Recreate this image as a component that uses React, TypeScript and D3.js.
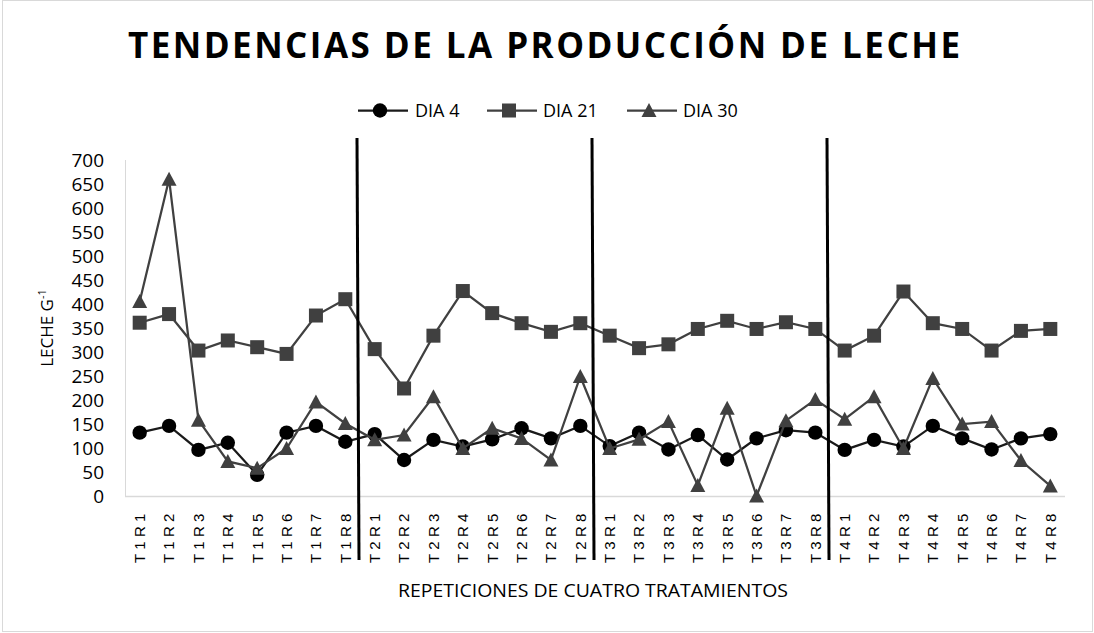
import React from 'react';
import * as d3 from 'd3';

const categories = [
  'T1R1', 'T1R2', 'T1R3', 'T1R4', 'T1R5', 'T1R6', 'T1R7', 'T1R8',
  'T2R1', 'T2R2', 'T2R3', 'T2R4', 'T2R5', 'T2R6', 'T2R7', 'T2R8',
  'T3R1', 'T3R2', 'T3R3', 'T3R4', 'T3R5', 'T3R6', 'T3R7', 'T3R8',
  'T4R1', 'T4R2', 'T4R3', 'T4R4', 'T4R5', 'T4R6', 'T4R7', 'T4R8',
];

const dia4 = [
  132, 146, 96, 111, 44, 132, 146, 113,
  129, 75, 117, 103, 118, 141, 120, 146,
  104, 132, 97, 127, 76, 120, 137, 132,
  96, 117, 103, 146, 120, 97, 120, 129,
];

const dia21 = [
  361, 379, 303, 324, 310, 296, 376, 410,
  306, 224, 334, 427, 381, 360, 342, 360,
  334, 308, 316, 348, 365, 348, 362, 348,
  303, 334, 426, 360, 348, 303, 344, 348,
];

const dia30 = [
  405, 660, 158, 72, 58, 99, 196, 151,
  117, 127, 207, 99, 141, 120, 75, 249,
  99, 118, 155, 22, 183, 0, 157, 201,
  160, 207, 99, 245, 150, 155, 74, 21,
];

const yTicks = [0, 50, 100, 150, 200, 250, 300, 350, 400, 450, 500, 550, 600, 650, 700];
const groupBreaks = [8, 16, 24];

const series = [
  { name: 'DIA 4', values: dia4, marker: 'circle', color: '#000000', line: '#1a1a1a' },
  { name: 'DIA 21', values: dia21, marker: 'square', color: '#404040', line: '#404040' },
  { name: 'DIA 30', values: dia30, marker: 'triangle', color: '#404040', line: '#404040' },
];

const W = 1094;
const H = 633;
const left = 125;
const right = 1065;
const top = 160;
const bottom = 496;
const font = "'Open Sans', 'Noto Sans', sans-serif";

function Marker({ type, x, y, color }: { type: string; x: number; y: number; color: string }) {
  if (type === 'circle') return <circle cx={x} cy={y} r={7.2} fill={color} />;
  if (type === 'square') return <rect x={x - 7} y={y - 7} width={14} height={14} fill={color} />;
  return <path d={`M${x},${y - 7.5}L${x + 7.5},${y + 6.5}L${x - 7.5},${y + 6.5}Z`} fill={color} />;
}

export default function App() {
  const x = d3.scaleBand<string>().domain(categories).range([left, right]);
  const y = d3.scaleLinear().domain([0, 700]).range([bottom, top]);
  const cx = (c: string) => (x(c) as number) + x.bandwidth() / 2;

  const line = d3
    .line<number>()
    .x((_, i) => cx(categories[i]))
    .y(d => y(d));

  const legendItems = [
    { lx: 358, tx: 415 },
    { lx: 487, tx: 543 },
    { lx: 627, tx: 683 },
  ];

  return (
    <svg width={W} height={H} style={{ position: 'absolute', left: 0, top: 0, background: '#fff' }}>
      <rect x={2.5} y={0.5} width={1090} height={631} fill="#fff" stroke="#d9d9d9" />

      {/* title */}
      <text
        x={128}
        y={58}
        fontFamily={font}
        fontWeight="bold"
        fontSize={35}
        textLength={832}
        lengthAdjust="spacing"
        fill="#000"
      >
        TENDENCIAS DE LA PRODUCCIÓN DE LECHE
      </text>

      {/* legend */}
      {series.map((s, i) => (
        <g key={s.name}>
          <line x1={legendItems[i].lx} x2={legendItems[i].lx + 50} y1={110.5} y2={110.5} stroke={s.line} strokeWidth={2.25} />
          <Marker type={s.marker} x={legendItems[i].lx + 22} y={110.5} color={s.color} />
          <text x={legendItems[i].tx} y={110.5} dy="0.35em" fontFamily={font} fontSize={18} fill="#000">
            {s.name}
          </text>
        </g>
      ))}

      {/* axes */}
      <line x1={left + 0.5} x2={left + 0.5} y1={top} y2={bottom} stroke="#d9d9d9" strokeWidth={1} />
      <line x1={left} x2={right} y1={bottom + 0.5} y2={bottom + 0.5} stroke="#d9d9d9" strokeWidth={1.5} />

      {yTicks.map(t => (
        <text key={t} x={104} y={y(t)} dy="0.35em" textAnchor="end" fontFamily={font} fontSize={19} fill="#000">
          {t}
        </text>
      ))}

      {categories.map(c => (
        <text
          key={c}
          transform={`translate(${cx(c)},563) rotate(-90)`}
          dy="0.36em"
          fontFamily="'Liberation Sans', Arial, sans-serif"
          fontSize={15}
          letterSpacing={4.2}
          fill="#000"
        >
          {c}
        </text>
      ))}

      <text
        transform={`translate(53,${(top + bottom) / 2}) rotate(-90)`}
        textAnchor="middle"
        fontFamily={font}
        fontSize={17}
        fill="#000"
      >
        LECHE G<tspan fontSize={11} dy={-7}>-1</tspan>
      </text>

      <text x={398} y={597} fontFamily={font} fontSize={18} textLength={390} lengthAdjust="spacingAndGlyphs" fill="#000">
        REPETICIONES DE CUATRO TRATAMIENTOS
      </text>

      {/* series */}
      {series.map(s => (
        <g key={s.name}>
          <path d={line(s.values) || ''} fill="none" stroke={s.line} strokeWidth={2.25} />
          {s.values.map((v, i) => (
            <Marker key={i} type={s.marker} x={cx(categories[i])} y={y(v)} color={s.color} />
          ))}
        </g>
      ))}

      {/* treatment separators */}
      {groupBreaks.map(b => {
        const bx = left + b * x.step();
        return <line key={b} x1={bx - 3} x2={bx - 1} y1={138} y2={560} stroke="#000" strokeWidth={3} />;
      })}
    </svg>
  );
}
